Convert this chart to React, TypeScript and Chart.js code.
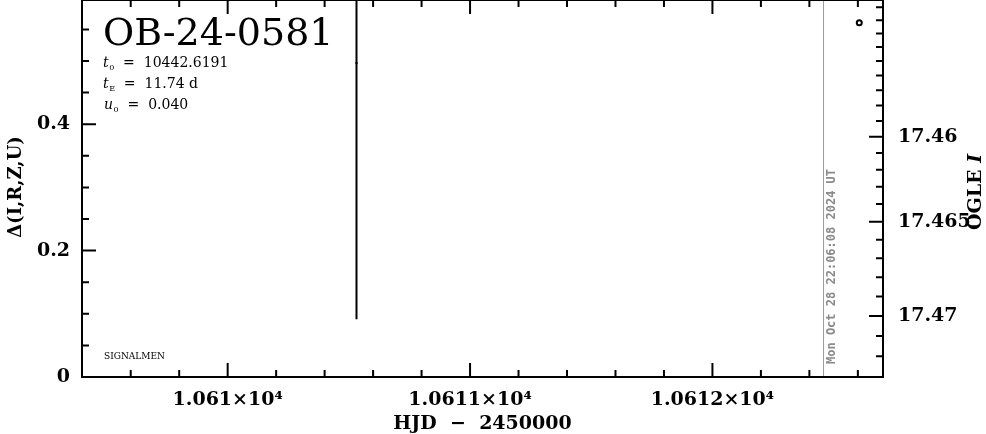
import React, { useEffect, useRef } from 'react';
import { Chart, registerables } from 'chart.js';

Chart.register(...registerables);

// ---- axis ranges and tick labels ----
const xMin = 10609.399;
const xMax = 10612.7037;
const yMin = 0;
const yMax = 0.5965;
const xMajorTicks = [10610, 10611, 10612];
const xTickLabels = ['1.061×10⁴', '1.0611×10⁴', '1.0612×10⁴'];
const yMajorTicks = [0, 0.2, 0.4];
const yTickLabels = ['0', '0.2', '0.4'];
const magMajorTicks = [17.46, 17.465, 17.47];
const magTickLabels = ['17.46', '17.465', '17.47'];
const magMinorTicks = [
  17.451, 17.452, 17.453, 17.454, 17.455, 17.456, 17.457, 17.458, 17.459,
  17.461, 17.462, 17.463, 17.464, 17.466, 17.467, 17.468, 17.469, 17.471, 17.472,
];

// ---- data ----
const signalHjd = [10610.5315];
const signalDelta = [0.4968];
const signalErr = [0.4054];
const ogleHjd = [10612.6058];
const ogleMag = [17.4522];
const nowHjd = [10612.4584];

// ---- text ----
const eventName = 'OB-24-0581';
const paramT0 = '10442.6191';
const paramTE = '11.74 d';
const paramU0 = '0.040';
const creditText = 'SIGNALMEN';
const nowLabel = 'Mon Oct 28 22:06:08 2024 UT';
const xTitle = 'HJD  \u2212  2450000';
const yTitle = 'Δ(I,R,Z,U)';

// right (OGLE I) axis is non-linear relative to the left axis
function magToDelta(m: number): number {
  const n = (m - 17.46) * 1000;
  return 0.38005 - 0.025416 * n - 0.0002936 * n * n;
}

const decorPlugin = {
  id: 'decor',
  afterDatasetsDraw(chart: any) {
    const { ctx, chartArea: a, scales } = chart;
    const xs = scales.x;
    const ys = scales.y;
    ctx.save();
    ctx.strokeStyle = '#000';
    ctx.lineWidth = 2;
    ctx.beginPath();
    // x ticks, bottom and top (every 0.2 d)
    for (let k = Math.ceil(xMin * 5); k <= Math.floor(xMax * 5); k++) {
      const px = xs.getPixelForValue(k / 5);
      if (px < a.left + 2 || px > a.right - 2) continue;
      const len = k % 5 === 0 ? 14 : 7;
      ctx.moveTo(px, a.bottom);
      ctx.lineTo(px, a.bottom - len);
      ctx.moveTo(px, a.top);
      ctx.lineTo(px, a.top + len);
    }
    // left ticks (every 0.05)
    for (let k = 1; k / 20 < yMax; k++) {
      const py = ys.getPixelForValue(k / 20);
      const len = k % 4 === 0 ? 14 : 7;
      ctx.moveTo(a.left, py);
      ctx.lineTo(a.left + len, py);
    }
    // right ticks (magnitudes)
    const allMag = [...magMajorTicks.map((m) => [m, 14]), ...magMinorTicks.map((m) => [m, 7])];
    for (const [m, len] of allMag) {
      const py = ys.getPixelForValue(magToDelta(m));
      if (py < a.top + 2 || py > a.bottom - 2) continue;
      ctx.moveTo(a.right, py);
      ctx.lineTo(a.right - len, py);
    }
    ctx.stroke();
    ctx.strokeRect(a.left, a.top, a.right - a.left, a.bottom - a.top);

    // title
    ctx.fillStyle = '#000';
    ctx.textAlign = 'left';
    ctx.textBaseline = 'alphabetic';
    ctx.font = '38px "DejaVu Serif"';
    ctx.fillText(eventName, a.left + 21, 45);

    const drawParam = (x0: number, base: number, sym: string, sub: string, rest: string) => {
      ctx.font = 'italic 14px "DejaVu Serif"';
      ctx.fillText(sym, x0, base);
      let x = x0 + ctx.measureText(sym).width;
      ctx.font = '8px "DejaVu Serif"';
      ctx.fillText(sub, x + 0.5, base + 3);
      x += ctx.measureText(sub).width + 0.5;
      ctx.font = '14px "DejaVu Serif"';
      ctx.fillText('  =  ' + rest, x, base);
    };
    drawParam(a.left + 21, 67, 't', '0', paramT0);
    drawParam(a.left + 21, 88, 't', 'E', paramTE);
    drawParam(a.left + 22, 109, 'u', '0', paramU0);

    ctx.font = '9px "DejaVu Serif"';
    ctx.fillText(creditText, a.left + 22, 359);

    // timestamp next to the "now" line
    const nx = xs.getPixelForValue(nowHjd[0]);
    ctx.save();
    ctx.translate(nx + 8, a.bottom - 13);
    ctx.rotate(-Math.PI / 2);
    ctx.fillStyle = '#8a8a8a';
    ctx.font = 'bold 12px "DejaVu Sans Mono"';
    ctx.textBaseline = 'middle';
    ctx.fillText(nowLabel, 0, 0);
    ctx.restore();

    // axis titles
    ctx.fillStyle = '#000';
    ctx.textAlign = 'center';
    ctx.textBaseline = 'middle';
    ctx.font = 'bold 19px "DejaVu Serif"';
    ctx.fillText(xTitle, (a.left + a.right) / 2, 424);

    ctx.save();
    ctx.translate(16, 187);
    ctx.rotate(-Math.PI / 2);
    ctx.font = 'bold 18px "DejaVu Serif"';
    ctx.fillText(yTitle, 0, 0);
    ctx.restore();

    ctx.save();
    ctx.translate(976, 192);
    ctx.rotate(-Math.PI / 2);
    ctx.textAlign = 'left';
    ctx.font = 'bold 19px "DejaVu Serif"';
    const w1 = ctx.measureText('OGLE ').width;
    ctx.font = 'bold italic 19px "DejaVu Serif"';
    const w2 = ctx.measureText('I').width;
    const start = -(w1 + w2) / 2;
    ctx.font = 'bold 19px "DejaVu Serif"';
    ctx.fillText('OGLE ', start, 0);
    ctx.font = 'bold italic 19px "DejaVu Serif"';
    ctx.fillText('I', start + w1, 0);
    ctx.restore();

    ctx.restore();
  },
};

function zeroPadding(s: any) {
  s.paddingTop = 0;
  s.paddingBottom = 0;
  s.paddingLeft = 0;
  s.paddingRight = 0;
}

export default function App() {
  const canvasRef = useRef<HTMLCanvasElement | null>(null);

  useEffect(() => {
    const canvas = canvasRef.current;
    if (!canvas) return;
    const tickFont = { family: 'DejaVu Serif', size: 19, weight: 'bold' as const };

    const errorBars = signalHjd.map((x, i) => ({
      type: 'scatter' as const,
      data: [
        { x, y: signalDelta[i] - signalErr[i] },
        { x, y: signalDelta[i] + signalErr[i] },
      ],
      showLine: true,
      borderColor: '#000',
      borderWidth: 2,
      pointRadius: 0,
      yAxisID: 'y',
    }));

    const chart = new Chart(canvas, {
      type: 'scatter',
      data: {
        datasets: [
          {
            data: [
              { x: nowHjd[0], y: yMin },
              { x: nowHjd[0], y: yMax },
            ],
            showLine: true,
            borderColor: '#9a9a9a',
            borderWidth: 1,
            pointRadius: 0,
            yAxisID: 'y',
          },
          ...errorBars,
          {
            data: signalHjd.map((x, i) => ({ x, y: signalDelta[i] })),
            pointStyle: 'rect',
            pointRadius: 1.5,
            backgroundColor: '#000',
            borderColor: '#000',
            borderWidth: 0,
            yAxisID: 'y',
          },
          {
            data: ogleHjd.map((x, i) => ({ x, y: magToDelta(ogleMag[i]) })),
            pointStyle: 'circle',
            pointRadius: 2.5,
            backgroundColor: '#fff',
            borderColor: '#000',
            borderWidth: 2,
            yAxisID: 'y',
          },
        ],
      },
      options: {
        animation: false,
        responsive: true,
        maintainAspectRatio: false,
        layout: { padding: 0, autoPadding: false },
        plugins: {
          legend: { display: false },
          tooltip: { enabled: false },
        },
        scales: {
          x: {
            type: 'linear',
            position: 'bottom',
            min: xMin,
            max: xMax,
            grid: { display: false, drawTicks: false },
            border: { display: false },
            afterBuildTicks: (s: any) => {
              s.ticks = xMajorTicks.map((v) => ({ value: v }));
            },
            afterFit: (s: any) => {
              s.height = 57;
              zeroPadding(s);
            },
            ticks: {
              autoSkip: false,
              maxRotation: 0,
              padding: 12,
              color: '#000',
              font: tickFont,
              callback: (_v: any, i: number) => xTickLabels[i],
            },
          },
          y: {
            type: 'linear',
            position: 'left',
            min: yMin,
            max: yMax,
            grid: { display: false, drawTicks: false },
            border: { display: false },
            afterBuildTicks: (s: any) => {
              s.ticks = yMajorTicks.map((v) => ({ value: v }));
            },
            afterFit: (s: any) => {
              s.width = 82;
              zeroPadding(s);
            },
            ticks: {
              autoSkip: false,
              padding: 12,
              color: '#000',
              font: tickFont,
              callback: (_v: any, i: number) => yTickLabels[i],
            },
          },
          y2: {
            type: 'linear',
            position: 'right',
            min: yMin,
            max: yMax,
            grid: { display: false, drawTicks: false },
            border: { display: false },
            afterBuildTicks: (s: any) => {
              s.ticks = magMajorTicks.map((m) => ({ value: magToDelta(m) }));
            },
            afterFit: (s: any) => {
              s.width = 103;
              zeroPadding(s);
            },
            ticks: {
              autoSkip: false,
              padding: 15,
              color: '#000',
              font: tickFont,
              callback: (_v: any, i: number) => magTickLabels[i],
            },
          },
        },
      },
      plugins: [decorPlugin],
    });

    return () => chart.destroy();
  }, []);

  return (
    <div style={{ position: 'fixed', left: 0, top: 0, width: 986, height: 434, background: '#fff' }}>
      <canvas ref={canvasRef} />
    </div>
  );
}
